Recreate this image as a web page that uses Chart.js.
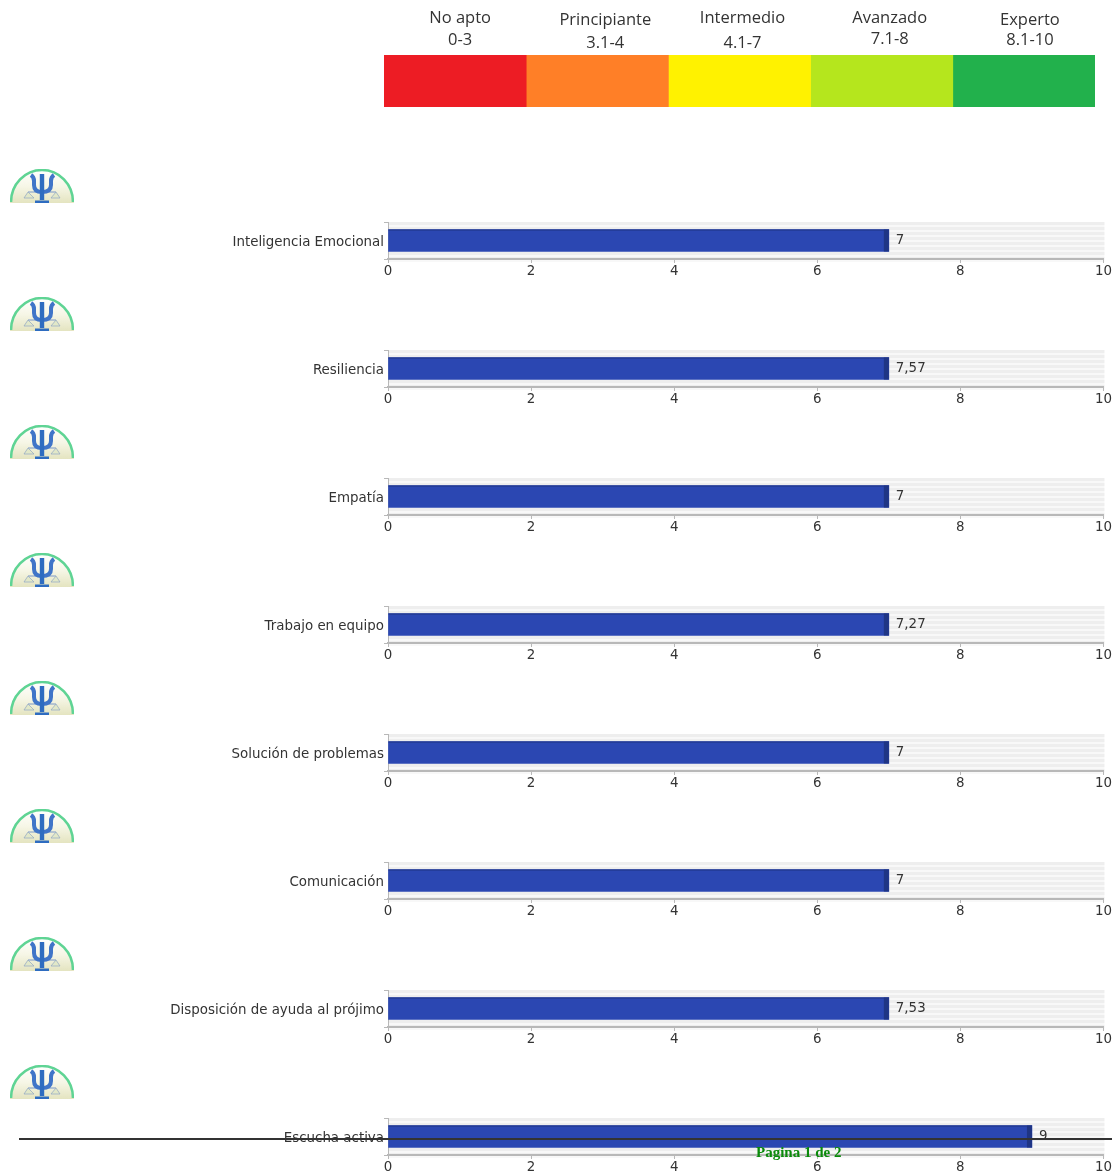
<!DOCTYPE html>
<html>
<head>
<meta charset="utf-8">
<style>
  html, body { margin: 0; padding: 0; background: #fff; }
  body { position: relative; width: 1112px; height: 1172px; overflow: hidden; }
  canvas { position: absolute; left: 0; }
  .logo { position: absolute; left: 10px; width: 64px; height: 34px; }
  #pageLine { position: absolute; left: 19px; right: 0; top: 1138px; height: 2px; background: #333; }
  #pageText { position: absolute; left: 756px; top: 1144px; font: bold 15px "Liberation Serif", serif; color: #0a8a0a; white-space: nowrap; }
</style>
<script src="https://cdn.jsdelivr.net/npm/chart.js@4"></script>
</head>
<body>
<div id="pageLine"></div>
<div id="pageText">Pagina 1 de 2</div>
<script>
// reference scale on top
const bandNames = ['No apto', 'Principiante', 'Intermedio', 'Avanzado', 'Experto'];
const bandRanges = ['0-3', '3.1-4', '4.1-7', '7.1-8', '8.1-10'];
const bandSpans = [1, 1, 1, 1, 1];
const bandColors = ['#ed1c24', '#ff7f27', '#fff200', '#b5e61d', '#22b14c'];

// one bar per row. the source draws whole numbers, the label keeps the decimals
const categories = ['Inteligencia Emocional', 'Resiliencia', 'Empatía', 'Trabajo en equipo',
  'Solución de problemas', 'Comunicación', 'Disposición de ayuda al prójimo', 'Escucha activa'];
const barValues = [7, 7, 7, 7, 7, 7, 7, 9];
const valueLabels = ['7', '7,57', '7', '7,27', '7', '7', '7,53', '9'];
const axisTicks = [0, 2, 4, 6, 8, 10];

const ROW_TOP = 222;
const ROW_STEP = 128;
const PLOT_LEFT = 388;
const PLOT_RIGHT = 1104;
const LABEL_FONT = '13.4px "DejaVu Sans", sans-serif';

function addCanvas(top, height) {
  const c = document.createElement('canvas');
  c.width = 1112;
  c.height = height;
  c.style.top = top + 'px';
  document.body.insertBefore(c, document.getElementById('pageLine'));
  return c;
}

// ---- top colour scale ----
const bandTextShift = [
  { x: 5, name: 18, range: 40 },
  { x: 8, name: 20, range: 43 },
  { x: 3, name: 18, range: 43 },
  { x: 8, name: 18, range: 39 },
  { x: 6, name: 20, range: 40 }
];

const bandTextPlugin = {
  id: 'bandText',
  afterDatasetsDraw(chart) {
    const ctx = chart.ctx;
    ctx.save();
    ctx.font = '16.5px "Open Sans", sans-serif';
    ctx.fillStyle = '#333';
    ctx.textAlign = 'center';
    ctx.textBaseline = 'middle';
    bandNames.forEach((name, i) => {
      const el = chart.getDatasetMeta(i).data[0];
      const cx = (el.base + el.x) / 2 + bandTextShift[i].x;
      ctx.fillText(name, cx, bandTextShift[i].name);
      ctx.fillText(bandRanges[i], cx, bandTextShift[i].range);
    });
    ctx.restore();
  }
};

new Chart(addCanvas(0, 120), {
  type: 'bar',
  data: {
    labels: ['Nivel'],
    datasets: bandNames.map((name, i) => ({
      label: name,
      data: [bandSpans[i]],
      backgroundColor: bandColors[i],
      borderWidth: 0,
      barThickness: 52
    }))
  },
  options: {
    indexAxis: 'y',
    responsive: false,
    animation: false,
    layout: { padding: { left: 384, right: 17, top: 55, bottom: 13 } },
    plugins: { legend: { display: false }, tooltip: { enabled: false } },
    scales: {
      x: { stacked: true, display: false, min: 0, max: 5 },
      y: { stacked: true, display: false }
    }
  },
  plugins: [bandTextPlugin]
});

// ---- striped plot background, dark bar end and value label ----
const rowPlugin = {
  id: 'rowDecor',
  beforeDraw(chart) {
    const ctx = chart.ctx;
    const a = chart.chartArea;
    ctx.save();
    for (let y = a.top; y < a.bottom; y += 5) {
      ctx.fillStyle = '#eeeeee';
      ctx.fillRect(a.left, y, a.right - a.left + 1, 3);
      ctx.fillStyle = '#f8f8f8';
      ctx.fillRect(a.left, y + 3, a.right - a.left + 1, 2);
    }
    ctx.restore();
  },
  afterDatasetsDraw(chart) {
    const ctx = chart.ctx;
    const bar = chart.getDatasetMeta(0).data[0];
    const top = bar.y - bar.height / 2;
    ctx.save();
    ctx.fillStyle = '#1f3585';
    ctx.fillRect(bar.x - 5, top, 5, bar.height);
    ctx.fillRect(bar.base, top, bar.x - bar.base, 1);
    ctx.font = LABEL_FONT;
    ctx.fillStyle = '#333';
    ctx.textAlign = 'left';
    ctx.textBaseline = 'middle';
    ctx.fillText(chart.data.datasets[0].valueLabel, bar.x + 7, bar.y);
    ctx.restore();
  }
};

function drawRow(i) {
  const plotTop = ROW_TOP + i * ROW_STEP;
  // chart.js keeps half a label height above a vertical axis, so the canvas starts 8px higher
  const canvas = addCanvas(plotTop - 8, 66);
  new Chart(canvas, {
    type: 'bar',
    data: {
      labels: [categories[i]],
      datasets: [{
        data: [barValues[i]],
        valueLabel: valueLabels[i],
        backgroundColor: '#2b47b2',
        borderWidth: 0,
        barThickness: 22
      }]
    },
    options: {
      indexAxis: 'y',
      responsive: false,
      animation: false,
      layout: { padding: { top: 0, right: 1112 - PLOT_RIGHT, bottom: 0, left: 0 } },
      plugins: { legend: { display: false }, tooltip: { enabled: false } },
      scales: {
        x: {
          min: 0,
          max: 10,
          afterBuildTicks(scale) { scale.ticks = axisTicks.map(v => ({ value: v })); },
          afterFit(scale) { scale.height = 21; },
          border: { color: '#b8b8b8', width: 2 },
          grid: { drawOnChartArea: false, tickLength: 4, tickColor: '#b8b8b8' },
          ticks: {
            autoSkip: false,
            maxRotation: 0,
            padding: 0,
            color: '#333',
            font: { family: '"DejaVu Sans", sans-serif', size: 13.4 }
          }
        },
        y: {
          afterFit(scale) { scale.width = PLOT_LEFT; },
          border: { color: '#b8b8b8', width: 1 },
          grid: { drawOnChartArea: false, offset: true, tickLength: 4, tickColor: '#b8b8b8' },
          ticks: {
            padding: 0,
            labelOffset: 2,
            color: '#333',
            font: { family: '"DejaVu Sans", sans-serif', size: 13.4 }
          }
        }
      }
    },
    plugins: [rowPlugin]
  });
}

categories.forEach((name, i) => drawRow(i));

// ---- logo repeated next to every row ----
const logoSvg = `<svg xmlns="http://www.w3.org/2000/svg" width="64" height="34" viewBox="0 0 64 34">
  <defs>
    <linearGradient id="LGa" x1="0" y1="0" x2="0" y2="1">
      <stop offset="0" stop-color="#ffffff"/><stop offset="0.5" stop-color="#f6f6e6"/><stop offset="1" stop-color="#e4e4c0"/>
    </linearGradient>
    <filter id="LGb"><feGaussianBlur stdDeviation="0.5"/></filter>
  </defs>
  <g filter="url(#LGb)">
    <path d="M0 34 A32 33 0 0 1 64 34 Z" fill="url(#LGa)"/>
    <path d="M1 33 A31 32 0 0 1 63 33" fill="none" stroke="#5fd494" stroke-width="2.6"/>
    <path d="M18 23 H46" stroke="#7a98c8" stroke-width="1"/>
    <path d="M18 23 L14 29 H24 Z M46 23 L41 29 H50 Z" fill="#e2e8c8" stroke="#8fa6c4" stroke-width="0.7"/>
    <path d="M21 6 Q24 8 24 12 V16 Q24 23 32 23 Q41 23 41 16 V12 Q41 8 44 6" fill="none" stroke="#3f74c8" stroke-width="4"/>
    <path d="M32 5 V31" stroke="#2f6cc0" stroke-width="4.4"/>
    <path d="M25 33 H39" stroke="#2f6cc0" stroke-width="3"/>
  </g>
</svg>`;

categories.forEach((name, i) => {
  const d = document.createElement('div');
  d.className = 'logo';
  d.style.top = (169 + i * ROW_STEP) + 'px';
  d.innerHTML = logoSvg.replace(/LG/g, 'lg' + i);
  document.body.appendChild(d);
});
</script>
</body>
</html>
